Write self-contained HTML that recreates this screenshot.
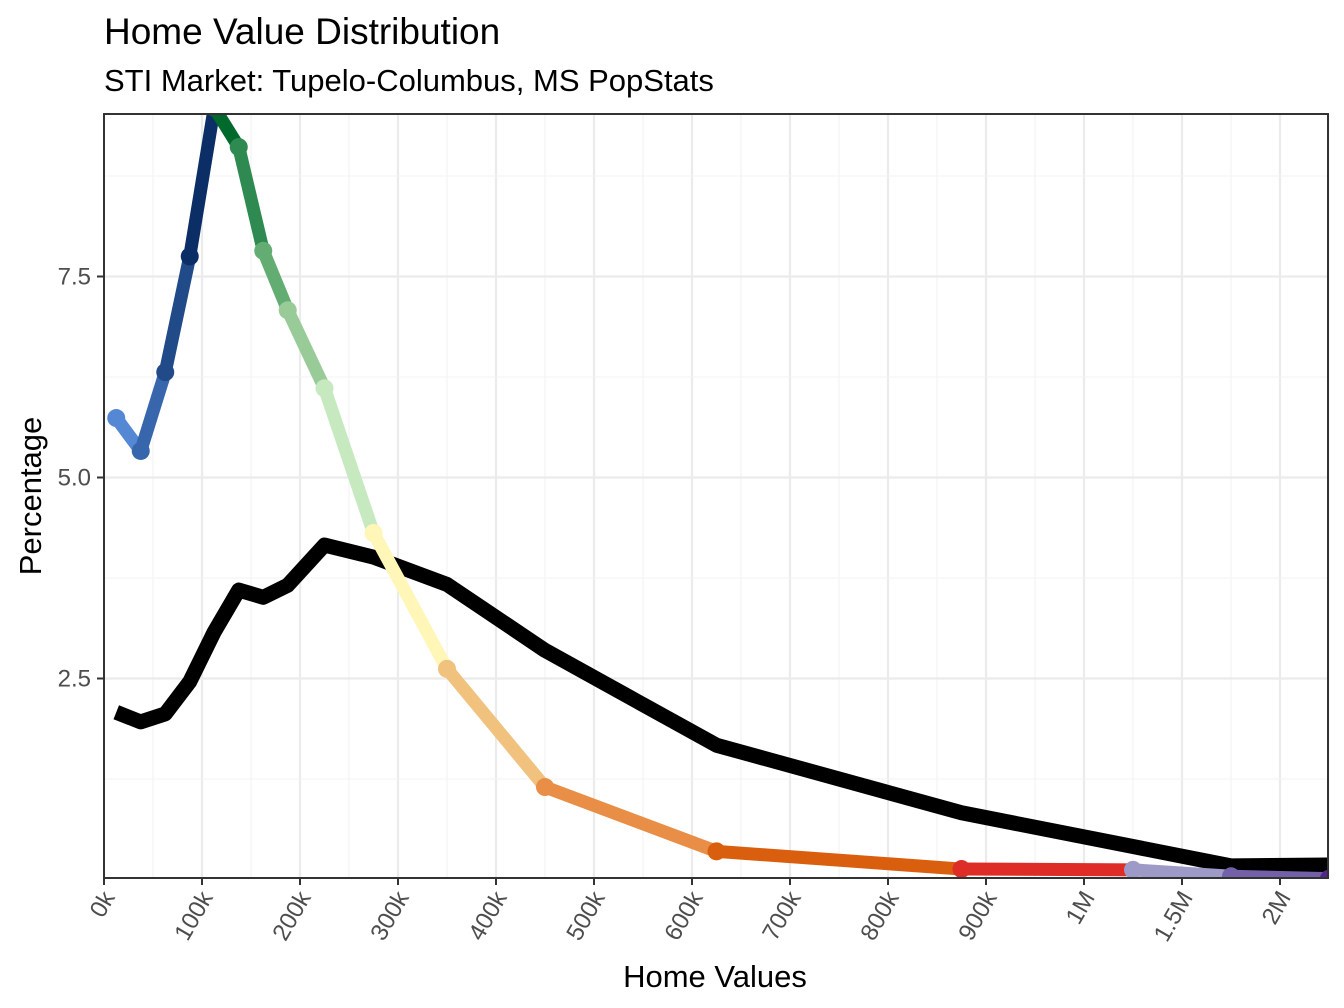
<!DOCTYPE html>
<html><head><meta charset="utf-8"><style>
body{margin:0;background:#fff;}
svg{display:block;font-family:"Liberation Sans",Arial,sans-serif;}
</style></head><body>
<svg id="chart" width="1344" height="1008" viewBox="0 0 1344 1008">
<text x="104" y="44" font-size="37" fill="#000">Home Value Distribution</text>
<text x="104" y="91" font-size="31" fill="#000">STI Market: Tupelo-Columbus, MS PopStats</text>
<text x="715" y="987" font-size="31" text-anchor="middle" fill="#000">Home Values</text>
<text transform="translate(41,496) rotate(-90)" font-size="31" text-anchor="middle" fill="#000">Percentage</text>
<defs><clipPath id="clip"><rect x="104" y="114" width="1224" height="764"/></clipPath></defs>
<g id="grid"></g>
<g id="series" clip-path="url(#clip)"></g>
<rect x="104" y="114" width="1224" height="764" fill="none" stroke="#333" stroke-width="2"/>
<g id="axes"></g>
</svg>
<script>
const xTickLabels = ["0k","100k","200k","300k","400k","500k","600k","700k","800k","900k","1M","1.5M","2M"];
const xTickValues = [0,100,200,300,400,500,600,700,800,900,1000,1500,2000];
const yTickValues = [2.5,5.0,7.5];
const homeValues = [12.5,37.5,62.5,87.5,112.5,137.5,162.5,187.5,225,275,350,450,625,875,1250,1750,2250];
const marketPct = [5.74,5.33,6.31,7.75,9.6,9.11,7.82,7.08,6.11,4.31,2.62,1.15,0.35,0.13,0.12,0.04,0.01];
const benchmarkPct = [2.08,1.96,2.06,2.46,3.08,3.6,3.51,3.66,4.16,4.01,3.67,2.85,1.67,0.83,0.41,0.17,0.18];
const segColors = ["#5588d4","#3866ad","#204a88","#0b2e66","#006a2c","#2e8a50","#63ad72","#98cb98","#c7e9c0","#fff6b8","#f0c27e","#e88e46","#d95f0e","#de2d26","#9e9ac8","#7261a8","#54278f"];

const L=104,T=114,B=878,R=1328,step=98;
function xs(v){
  if(v<=1000) return L+v/100*step;
  return L+10*step+(v-1000)/500*step;
}
function ys(p){return 879.5-p*80.4;}
const NS="http://www.w3.org/2000/svg";
function mk(tag,attrs,parent){const e=document.createElementNS(NS,tag);for(const k in attrs)e.setAttribute(k,attrs[k]);parent.appendChild(e);return e;}
const grid=document.getElementById('grid'),series=document.getElementById('series'),axes=document.getElementById('axes');
for(let i=0;i<xTickValues.length;i++){
  const x=L+i*step;
  const g=mk('line',{x1:x,x2:x,y1:T,y2:B,stroke:'#ebebeb','stroke-width':2.2},grid);
  
  
  const m=mk('line',{x1:x+step/2,x2:x+step/2,y1:T,y2:B,stroke:'#f3f3f3','stroke-width':1.1},grid);
  
  
}
[1.25,2.5,3.75,5,6.25,7.5,8.75].forEach(v=>{
  const major=yTickValues.includes(v);
  const g=mk('line',{x1:L,x2:R,y1:ys(v),y2:ys(v),stroke:major?'#ebebeb':'#f3f3f3','stroke-width':major?2.2:1.1},grid);
  
  
});
const bp=homeValues.map((v,i)=>xs(v)+','+ys(benchmarkPct[i])).join(' ');
const bl=mk('polyline',{points:bp,fill:'none',stroke:'#000','stroke-width':15,'stroke-linejoin':'round'},series);


for(let i=0;i<homeValues.length;i++){
  const x1=xs(homeValues[i]),y1=ys(marketPct[i]);
  const x2=i<homeValues.length-1?xs(homeValues[i+1]):x1,y2=i<homeValues.length-1?ys(marketPct[i+1]):y1;
  const s=mk('line',{x1:x1,y1:y1,x2:x2,y2:y2,stroke:segColors[i],'stroke-width':13,'stroke-linecap':'round'},series);
  
  
  const c=mk('circle',{cx:x1,cy:y1,r:9,fill:segColors[i]},series);
  
  
}
xTickLabels.forEach((lab,i)=>{
  const x=L+i*step;
  const t=mk('line',{x1:x,x2:x,y1:B,y2:B+7,stroke:'#333','stroke-width':2},axes);
  
  
  const tx=mk('text',{transform:`translate(${x+6},${B+16}) rotate(-60)`,'text-anchor':'end','dominant-baseline':'middle','font-size':24,fill:'#4d4d4d'},axes);
  tx.textContent=lab;
  
  
});
yTickValues.forEach(v=>{
  const y=ys(v);
  const t=mk('line',{x1:L-7,x2:L,y1:y,y2:y,stroke:'#333','stroke-width':2},axes);
  
  
  const tx=mk('text',{x:L-13,y:y+8,'text-anchor':'end','font-size':24,fill:'#4d4d4d'},axes);
  tx.textContent=v.toFixed(1);
  
  
});
</script>
</body></html>
